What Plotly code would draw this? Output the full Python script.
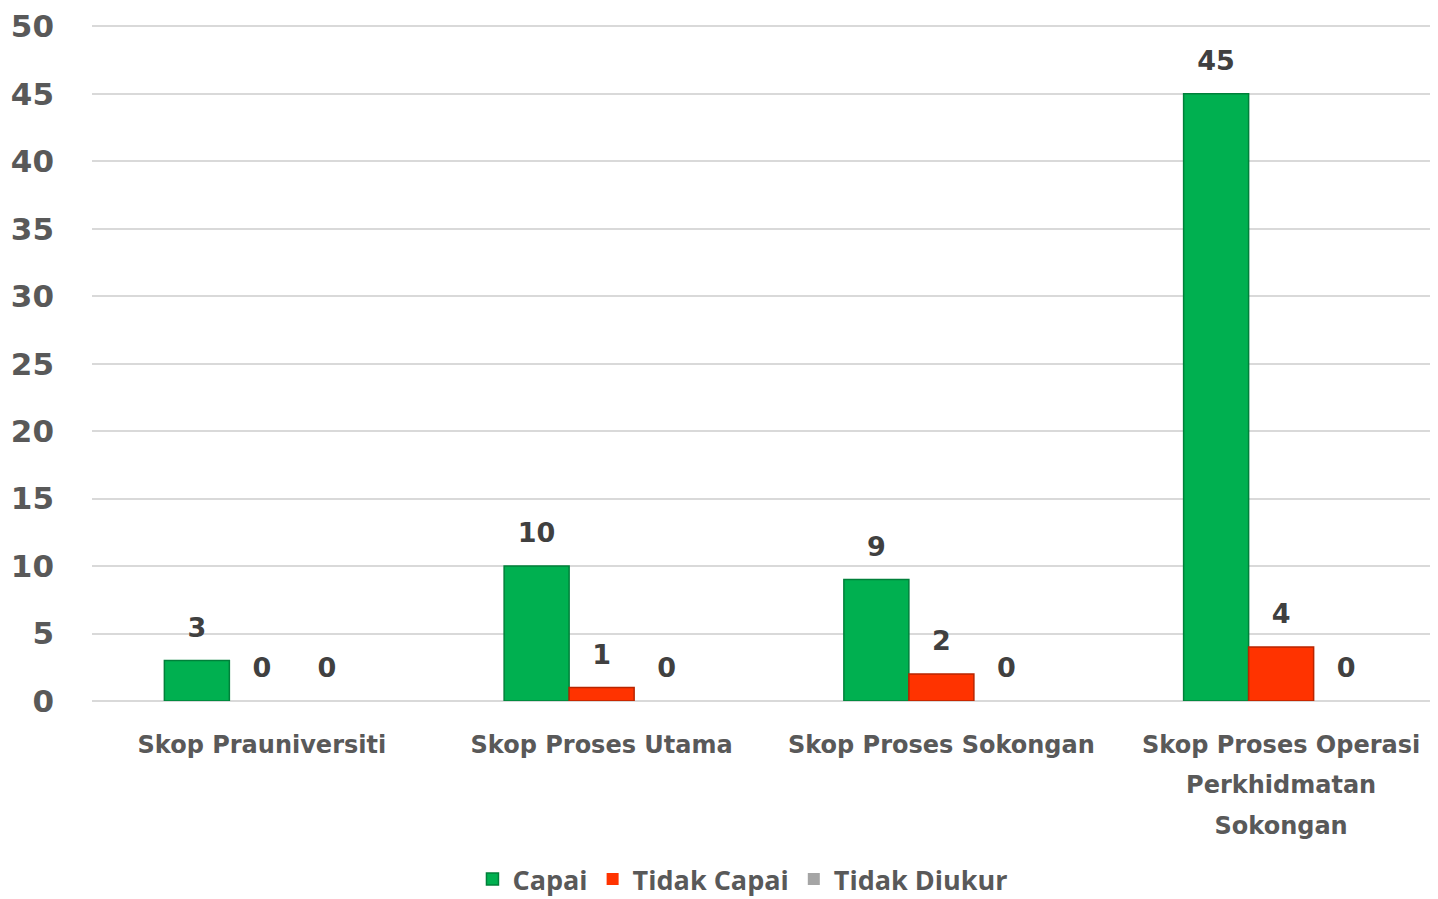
import plotly.graph_objects as go

categories = ["Skop Prauniversiti", "Skop Proses Utama", "Skop Proses Sokongan",
              "Skop Proses Operasi<br>Perkhidmatan<br>Sokongan"]
capai = [3, 10, 9, 45]
tidak_capai = [0, 1, 2, 4]
tidak_diukur = [0, 0, 0, 0]
y_ticks = [0, 5, 10, 15, 20, 25, 30, 35, 40, 45, 50]

series = [
    ("Capai", capai, "#00B050", "#00803A"),
    ("Tidak Capai", tidak_capai, "#FF3300", "#B82500"),
    ("Tidak Diukur", tidak_diukur, "#A5A5A5", "#7F7F7F"),
]

# category tick labels: small inner span, larger parent font for wider line spacing
tick_text = ["<br>".join(f"<span style='font-size:24px'>{ln}</span>" for ln in c.split("<br>"))
             for c in categories]

GAP = 0.426
fig = go.Figure()
for i, (name, vals, col, edge) in enumerate(series):
    fig.add_trace(go.Bar(
        x=categories, y=vals, name=name, offsetgroup=str(i),
        marker=dict(color=col, line=dict(color=edge, width=[1.5 if v else 0 for v in vals])),
        hoverinfo="x+y+name",
    ))
for i, (name, vals, col, edge) in enumerate(series):
    fig.add_trace(go.Scatter(
        x=categories, y=vals, name=name, offsetgroup=str(i), showlegend=False,
        mode="markers+text", marker=dict(size=26, opacity=0, color=col),
        text=[str(v) for v in vals], textposition="top center",
        textfont=dict(family="DejaVu Sans", size=27, color="#404040", weight="bold"),
        cliponaxis=False, hoverinfo="skip",
    ))

fig.update_layout(
    width=1443, height=915,
    margin=dict(l=84, r=0, t=17, b=222),
    barmode="group", bargap=GAP, bargroupgap=0,
    scattermode="group", scattergap=GAP,
    plot_bgcolor="white", paper_bgcolor="white",
    font=dict(family="DejaVu Sans", color="#595959"),
    legend=dict(orientation="h", x=0.479, xanchor="center", y=-0.264, yanchor="middle",
                font=dict(family="Open Sans", size=27, color="#595959", weight="bold"),
                traceorder="normal"),
)
fig.update_yaxes(range=[0, 50.1], tickvals=y_ticks, showgrid=True, gridcolor="#D9D9D9", gridwidth=2,
                 zeroline=True, zerolinecolor="#D9D9D9", zerolinewidth=2,
                 tickfont=dict(family="DejaVu Sans", size=31, color="#595959", weight="bold"),
                 ticks="", ticklabelstandoff=37, showline=False, automargin=False)
fig.update_xaxes(tickvals=categories, ticktext=tick_text,
                 tickfont=dict(family="DejaVu Sans", size=31, color="#595959", weight="bold"),
                 ticks="", showline=False, ticklabelstandoff=20, automargin=False)

fig.write_html("out.html")
